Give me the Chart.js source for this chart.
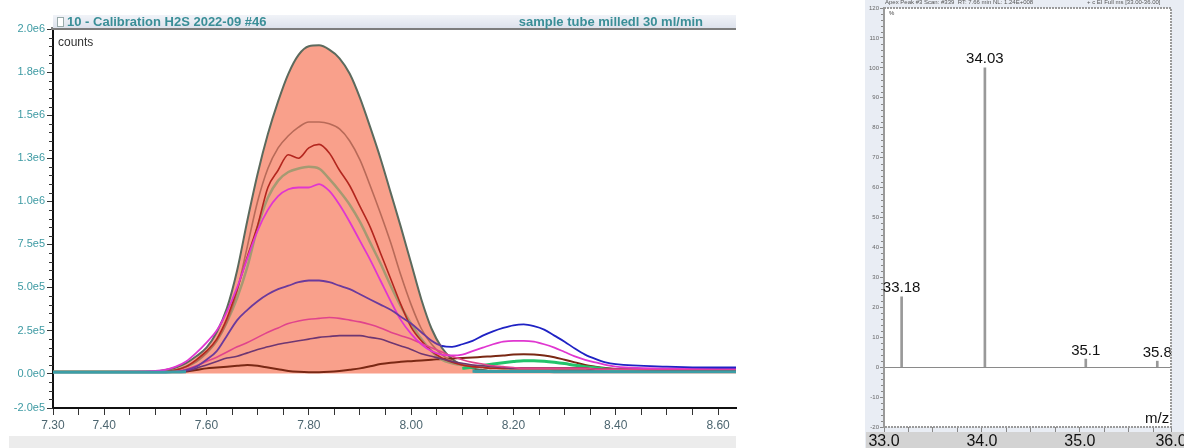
<!DOCTYPE html>
<html lang="en">
<head>
<meta charset="UTF-8" />
<title>H2S calibration - chromatogram and spectrum</title>
<script src="https://cdn.jsdelivr.net/npm/chart.js"></script>
<style>
  html, body { margin: 0; padding: 0; }
  body {
    width: 1184px; height: 448px; overflow: hidden; position: relative;
    background: #fff; font-family: "Liberation Sans", Arial, sans-serif;
  }
  #left { position: absolute; left: 0; top: 0; width: 740px; height: 448px; }
  #left canvas, #right canvas { position: absolute; left: 0; top: 0; }
  .titlebar {
    position: absolute; left: 53px; top: 15px; width: 683px; height: 13px;
    background: linear-gradient(#f1f3f8, #dde2ec);
    color: #3a8e97; font-size: 13px; line-height: 13px;
  }
  .titlebar .box {
    position: absolute; left: 4px; top: 2px; width: 5px; height: 8px;
    border: 1px solid #9aa; background: #fff;
  }
  .titlebar .l { position: absolute; left: 14px; top: 0; font-weight: bold; }
  .titlebar .r { position: absolute; right: 33px; top: 0; font-weight: bold; }
  .counts { position: absolute; left: 58px; top: 35px; font-size: 12px; color: #333; }
  .scrollband { position: absolute; left: 9px; top: 436px; width: 727px; height: 12px; background: #ececec; }

  #right { position: absolute; left: 865px; top: 0; width: 335px; height: 448px; background: #e9edf4; }
  #right .band { position: absolute; left: 1px; top: 432px; width: 318px; height: 16px; background: #d3d3d3; }
  #right .hdr { position: absolute; top: -1px; font-size: 6px; color: #555; white-space: nowrap; }
  #right .pct { position: absolute; left: 24px; top: 10px; font-size: 6px; color: #444; }
  #right .mz { position: absolute; left: 280px; top: 409px; font-size: 15px; color: #111; }
</style>
</head>
<body>
<div id="left">
  <div class="scrollband"></div>
  <canvas id="chrom" width="740" height="448"></canvas>
  <div class="titlebar"><span class="box"></span><span class="l">10 - Calibration H2S 2022-09 #46</span><span class="r">sample tube milledl 30 ml/min</span></div>
  <div class="counts">counts</div>
</div>
<div id="right">
  <div class="band"></div>
  <canvas id="spec" width="335" height="448"></canvas>
  <div class="hdr" style="left:20px">Apex Peak #3 Scan: #339&nbsp; RT: 7.66 min NL: 1.24E+008</div>
  <div class="hdr" style="left:222px">+ c EI Full ms [33.00-36.00]</div>
  <div class="pct">%</div>
  <div class="mz">m/z</div>
</div>

<script>
// ---- chromatogram (retention time in min, counts in millions) ----
const rt = [7.30, 7.40, 7.50, 7.52, 7.54,
            7.56, 7.58, 7.60, 7.62, 7.64,
            7.66, 7.68, 7.70, 7.72, 7.74,
            7.76, 7.78, 7.80, 7.82, 7.84,
            7.86, 7.88, 7.90, 7.92, 7.94,
            7.96, 7.98, 8.00, 8.02, 8.04,
            8.06, 8.08, 8.10, 8.12, 8.14,
            8.16, 8.18, 8.20, 8.22, 8.24,
            8.26, 8.28, 8.30, 8.32, 8.34,
            8.36, 8.38, 8.40, 8.50, 8.60,
            8.635];

const envelope = [0.01, 0.01, 0.012, 0.02, 0.035,
                  0.06, 0.10, 0.15, 0.24, 0.38,
                  0.60, 0.89, 1.16, 1.39, 1.58,
                  1.74, 1.85, 1.90, 1.905, 1.88,
                  1.83, 1.74, 1.60, 1.43, 1.25,
                  1.05, 0.85, 0.64, 0.43, 0.26,
                  0.15, 0.085, 0.05, 0.03, 0.02,
                  0.015, 0.015, 0.015, 0.015, 0.015,
                  0.015, 0.015, 0.015, 0.015, 0.015,
                  0.015, 0.015, 0.015, 0.015, 0.015,
                  0.015];

const brownTrace = [0.01, 0.01, 0.01, 0.012, 0.02,
                    0.04, 0.07, 0.12, 0.19, 0.30,
                    0.48, 0.74, 1.00, 1.19, 1.31,
                    1.38, 1.43, 1.46, 1.46, 1.45,
                    1.42, 1.35, 1.24, 1.09, 0.93,
                    0.76, 0.57, 0.40, 0.26, 0.17,
                    0.11, 0.07, 0.05, 0.04, 0.035,
                    0.03, 0.03, 0.03, 0.03, 0.03,
                    0.03, 0.03, 0.03, 0.03, 0.03,
                    0.025, 0.025, 0.025, 0.02, 0.02,
                    0.02];

const redTrace = [0.01, 0.01, 0.01, 0.012, 0.02,
                  0.04, 0.08, 0.13, 0.20, 0.32,
                  0.49, 0.68, 0.86, 1.08, 1.18,
                  1.27, 1.25, 1.31, 1.33, 1.28,
                  1.18, 1.09, 0.97, 0.85, 0.70,
                  0.55, 0.40, 0.27, 0.19, 0.13,
                  0.09, 0.065, 0.05, 0.04, 0.035,
                  0.03, 0.03, 0.03, 0.03, 0.03,
                  0.03, 0.03, 0.03, 0.03, 0.03,
                  0.025, 0.025, 0.025, 0.02, 0.02,
                  0.02];

const oliveTrace = [0.01, 0.01, 0.01, 0.012, 0.02,
                    0.04, 0.07, 0.12, 0.19, 0.30,
                    0.44, 0.62, 0.85, 1.02, 1.12,
                    1.17, 1.19, 1.20, 1.19, 1.13,
                    1.06, 0.98, 0.88, 0.76, 0.64,
                    0.51, 0.39, 0.29, 0.20, 0.13,
                    0.08, 0.06, 0.05, 0.045, 0.04,
                    0.035, 0.03, 0.03, 0.03, 0.03,
                    0.03, 0.03, 0.03, 0.03, 0.03,
                    0.025, 0.025, 0.025, 0.02, 0.02,
                    0.02];

const magentaTrace = [0.01, 0.01, 0.015, 0.022, 0.04,
                      0.07, 0.12, 0.18, 0.25, 0.36,
                      0.50, 0.67, 0.83, 0.95, 1.03,
                      1.07, 1.08, 1.08, 1.10, 1.06,
                      0.98, 0.88, 0.77, 0.66, 0.54,
                      0.42, 0.31, 0.23, 0.17, 0.13,
                      0.11, 0.105, 0.11, 0.13, 0.15,
                      0.17, 0.185, 0.19, 0.19, 0.185,
                      0.17, 0.15, 0.125, 0.10, 0.08,
                      0.065, 0.05, 0.04, 0.03, 0.03,
                      0.03];

const violetTrace = [0.01, 0.01, 0.01, 0.01, 0.01,
                     0.02, 0.04, 0.08, 0.13, 0.22,
                     0.31, 0.37, 0.42, 0.46, 0.49,
                     0.51, 0.53, 0.54, 0.54, 0.53,
                     0.51, 0.49, 0.46, 0.43, 0.40,
                     0.37, 0.33, 0.29, 0.24, 0.19,
                     0.16, 0.155, 0.17, 0.19, 0.22,
                     0.245, 0.265, 0.28, 0.285, 0.275,
                     0.255, 0.22, 0.185, 0.145, 0.11,
                     0.085, 0.065, 0.055, 0.04, 0.035,
                     0.035];

const pinkTrace = [0.01, 0.01, 0.01, 0.01, 0.013,
                   0.025, 0.045, 0.07, 0.095, 0.125,
                   0.155, 0.18, 0.21, 0.24, 0.265,
                   0.29, 0.305, 0.315, 0.32, 0.325,
                   0.32, 0.31, 0.30, 0.285, 0.265,
                   0.24, 0.22, 0.20, 0.175, 0.15,
                   0.125, 0.10, 0.08, 0.065, 0.055,
                   0.045, 0.04, 0.035, 0.03, 0.03,
                   0.03, 0.03, 0.03, 0.03, 0.03,
                   0.025, 0.025, 0.025, 0.025, 0.025,
                   0.025];

const plumTrace = [0.01, 0.01, 0.01, 0.01, 0.01,
                   0.015, 0.03, 0.05, 0.07, 0.09,
                   0.10, 0.12, 0.14, 0.155, 0.17,
                   0.18, 0.19, 0.20, 0.21, 0.215,
                   0.22, 0.22, 0.22, 0.21, 0.20,
                   0.18, 0.16, 0.14, 0.115, 0.10,
                   0.085, 0.07, 0.06, 0.05, 0.045,
                   0.04, 0.035, 0.03, 0.03, 0.03,
                   0.03, 0.03, 0.03, 0.03, 0.03,
                   0.025, 0.025, 0.025, 0.025, 0.025,
                   0.025];

const darkTrace = [0.01, 0.01, 0.01, 0.01, 0.01,
                   0.012, 0.02, 0.03, 0.035, 0.04,
                   0.045, 0.05, 0.045, 0.035, 0.025,
                   0.015, 0.01, 0.008, 0.008, 0.01,
                   0.015, 0.022, 0.03, 0.042, 0.055,
                   0.063, 0.068, 0.072, 0.076, 0.08,
                   0.085, 0.088, 0.09, 0.093, 0.097,
                   0.10, 0.105, 0.11, 0.112, 0.11,
                   0.105, 0.095, 0.08, 0.065, 0.05,
                   0.04, 0.032, 0.027, 0.02, 0.02,
                   0.02];

const greenTrace = [null, null, null, null, null,
                    null, null, null, null, null,
                    null, null, null, null, null,
                    null, null, null, null, null,
                    null, null, null, null, null,
                    null, null, null, null, null,
                    null, null, 0.03, 0.037, 0.046,
                    0.055, 0.063, 0.07, 0.075, 0.075,
                    0.072, 0.066, 0.058, 0.048, 0.04,
                    0.033, 0.027, 0.023, 0.018, 0.017,
                    0.017];

const tealTrace = [0.008, 0.008, 0.008, 0.008, 0.009,
                   0.01, null, null, null, null,
                   null, null, null, null, null,
                   null, null, null, null, null,
                   null, null, null, null, null,
                   null, null, null, null, null,
                   null, null, null, 0.013, 0.012,
                   0.012, 0.012, 0.012, 0.012, 0.012,
                   0.012, 0.011, 0.011, 0.011, 0.011,
                   0.01, 0.01, 0.01, 0.01, 0.01,
                   0.01];

const countTicks = [-0.2, 0, 0.25, 0.5, 0.75, 1.0, 1.25, 1.5, 1.75, 2.0];
const rtTickLabels = ["7.30", "7.40", "7.60", "7.80", "8.00", "8.20", "8.40", "8.60"];

// ---- mass spectrum ----
const mz = [33.18, 34.03, 35.06, 35.79];
const relAbundance = [23.5, 100, 2.7, 2.0];
const peakLabels = ["33.18", "34.03", "35.1", "35.8"];
const mzTicks = [33, 34, 35, 35.93];
const mzTickLabels = ["33.0", "34.0", "35.0", "36.0"];

const FONT = '"Liberation Sans", Arial, sans-serif';

function pts(values) {
  return values.map((v, i) => ({ x: rt[i], y: v }));
}

// 2.5e5 style labels
function sci(vM) {
  const v = Math.round(vM * 1e6);
  if (v === 0) return "0.0e0";
  const e = Math.floor(Math.log10(Math.abs(v)));
  return (v / Math.pow(10, e)).toFixed(1) + "e" + e;
}

function trace(label, values, color, width) {
  return {
    label: label,
    data: pts(values),
    borderColor: color,
    borderWidth: width || 1.6,
    pointRadius: 0,
    fill: false,
    cubicInterpolationMode: "monotone",
    spanGaps: false,
  };
}

const chromFrame = {
  id: "chromFrame",
  afterDraw(chart) {
    const ctx = chart.ctx;
    const a = chart.chartArea;
    const y = chart.scales.y;
    ctx.save();
    ctx.fillStyle = "#7d7d7d";
    ctx.fillRect(a.left - 2, a.top - 2, a.right - a.left + 2, 3);
    // minor ticks on the count axis
    ctx.strokeStyle = "#333";
    ctx.lineWidth = 1;
    for (let k = -4; k <= 40; k++) {
      if (k % 5 === 0 && k >= 0) continue;
      const py = Math.round(y.getPixelForValue(k * 0.05)) + 0.5;
      ctx.beginPath();
      ctx.moveTo(a.left - 4, py);
      ctx.lineTo(a.left, py);
      ctx.stroke();
    }
    ctx.restore();
  },
};

const violetDs = trace("trace 6", violetTrace, "#6b3a9c", 1.8);
violetDs.segment = {
  borderColor: (c) => (c.p0.parsed.x >= 8.06 ? "#1f22c4" : "#6b3a9c"),
};

const envelopeDs = trace("trace 1", envelope, "#5c6a5d", 2);
envelopeDs.fill = "origin";
envelopeDs.backgroundColor = "#f9a08b";

new Chart(document.getElementById("chrom"), {
  type: "line",
  data: {
    datasets: [
      trace("trace 12", tealTrace, "#3c9ea6", 3),
      violetDs,
      trace("trace 5", magentaTrace, "#e036d0", 1.8),
      trace("trace 7", pinkTrace, "#e0448c", 1.6),
      trace("trace 8", plumTrace, "#6e3672", 1.6),
      trace("trace 3", redTrace, "#b3261e", 1.6),
      trace("trace 2", brownTrace, "#b86a58", 1.6),
      trace("trace 4", oliveTrace, "#a59a72", 2.5),
      trace("trace 11", greenTrace, "#22c46a", 3),
      trace("trace 9", darkTrace, "#7a2814", 2),
      envelopeDs,
    ],
  },
  options: {
    responsive: false,
    animation: false,
    events: [],
    layout: { padding: { top: 29, right: 4, left: 0, bottom: 0 } },
    plugins: {
      legend: { display: false },
      tooltip: { enabled: false },
      filler: { drawTime: "beforeDatasetsDraw" },
    },
    scales: {
      x: {
        type: "linear",
        min: 7.3,
        max: 8.635,
        afterFit: (s) => { s.height = 40; },
        afterBuildTicks: (s) => {
          const t = [];
          for (let k = 146; k <= 172; k++) t.push({ value: k / 20 });
          s.ticks = t;
        },
        ticks: {
          autoSkip: false,
          maxRotation: 0,
          padding: 3,
          color: "#4d6670",
          font: { family: FONT, size: 12 },
          callback: (v) => {
            const s = Number(v).toFixed(2);
            return rtTickLabels.includes(s) ? s : "";
          },
        },
        grid: { drawOnChartArea: false, tickLength: 7, tickColor: "#333" },
        border: { display: true, color: "#111", width: 2 },
      },
      y: {
        type: "linear",
        min: -0.2,
        max: 2.0,
        afterFit: (s) => { s.width = 53; },
        afterBuildTicks: (s) => {
          s.ticks = countTicks.map((v) => ({ value: v }));
        },
        ticks: {
          autoSkip: false,
          padding: 2,
          color: "#3d9aa3",
          font: { family: FONT, size: 11 },
          callback: (v) => sci(v),
        },
        grid: { drawOnChartArea: false, tickLength: 6, tickColor: "#333" },
        border: { display: true, color: "#111", width: 2 },
      },
    },
  },
  plugins: [chromFrame],
});

// ---- spectrum ----
const specDecor = {
  id: "specDecor",
  beforeDraw(chart) {
    const ctx = chart.ctx;
    const a = chart.chartArea;
    ctx.save();
    ctx.fillStyle = "#ffffff";
    ctx.fillRect(a.left, a.top, a.right - a.left, a.bottom - a.top);
    ctx.restore();
  },
  afterDraw(chart) {
    const ctx = chart.ctx;
    const a = chart.chartArea;
    const y = chart.scales.y;
    ctx.save();
    ctx.strokeStyle = "#9a9a9a";
    ctx.lineWidth = 2;
    ctx.setLineDash([2, 1]);
    ctx.beginPath();
    ctx.moveTo(a.left, a.top);
    ctx.lineTo(a.right, a.top);
    ctx.lineTo(a.right, a.bottom);
    ctx.lineTo(a.left, a.bottom);
    ctx.stroke();
    ctx.setLineDash([]);
    ctx.lineWidth = 1;
    ctx.strokeStyle = "#888";
    for (let v = -20; v <= 120; v += 2) {
      if (v % 10 === 0) continue;
      const py = Math.round(y.getPixelForValue(v)) + 0.5;
      ctx.beginPath();
      ctx.moveTo(a.left - 3, py);
      ctx.lineTo(a.left - 1, py);
      ctx.stroke();
    }
    ctx.restore();
  },
  afterDatasetsDraw(chart) {
    const ctx = chart.ctx;
    const meta = chart.getDatasetMeta(0);
    ctx.save();
    ctx.fillStyle = "#111";
    ctx.font = "15px " + FONT;
    ctx.textAlign = "center";
    ctx.textBaseline = "bottom";
    meta.data.forEach((bar, i) => {
      ctx.fillText(peakLabels[i], bar.x, bar.y - 1);
    });
    ctx.restore();
  },
};

new Chart(document.getElementById("spec"), {
  type: "bar",
  data: {
    datasets: [
      {
        label: "relative abundance",
        data: mz.map((x, i) => ({ x: x, y: relAbundance[i] })),
        backgroundColor: "#999999",
        borderWidth: 0,
        barThickness: 2,
      },
    ],
  },
  options: {
    responsive: false,
    animation: false,
    events: [],
    layout: { padding: { top: 8, right: 29, left: 0, bottom: 0 } },
    plugins: { legend: { display: false }, tooltip: { enabled: false } },
    scales: {
      x: {
        type: "linear",
        min: 33,
        max: 35.93,
        offset: false,
        afterFit: (s) => { s.height = 21; },
        afterBuildTicks: (s) => {
          const t = [];
          for (let k = 132; k <= 143; k++) t.push({ value: k / 4 });
          t.push({ value: mzTicks[mzTicks.length - 1] });
          s.ticks = t;
        },
        ticks: {
          autoSkip: false,
          maxRotation: 0,
          padding: 0,
          color: "#111",
          font: { family: FONT, size: 16 },
          callback: (v) => {
            const i = mzTicks.findIndex((t) => Math.abs(t - v) < 1e-6);
            return i >= 0 ? mzTickLabels[i] : "";
          },
        },
        grid: { drawOnChartArea: false, offset: false, tickLength: 5, tickColor: "#888" },
        border: { display: false },
      },
      y: {
        type: "linear",
        min: -20,
        max: 120,
        afterFit: (s) => { s.width = 19; },
        ticks: {
          stepSize: 10,
          autoSkip: false,
          padding: 1,
          color: "#666",
          font: { family: FONT, size: 6 },
        },
        grid: {
          color: (c) => (c.tick && c.tick.value === 0 ? "#8a8a8a" : "rgba(0,0,0,0)"),
          tickColor: "#888",
          tickLength: 4,
        },
        border: { display: true, color: "#9a9a9a", width: 2 },
      },
    },
  },
  plugins: [specDecor],
});
</script>
</body>
</html>
